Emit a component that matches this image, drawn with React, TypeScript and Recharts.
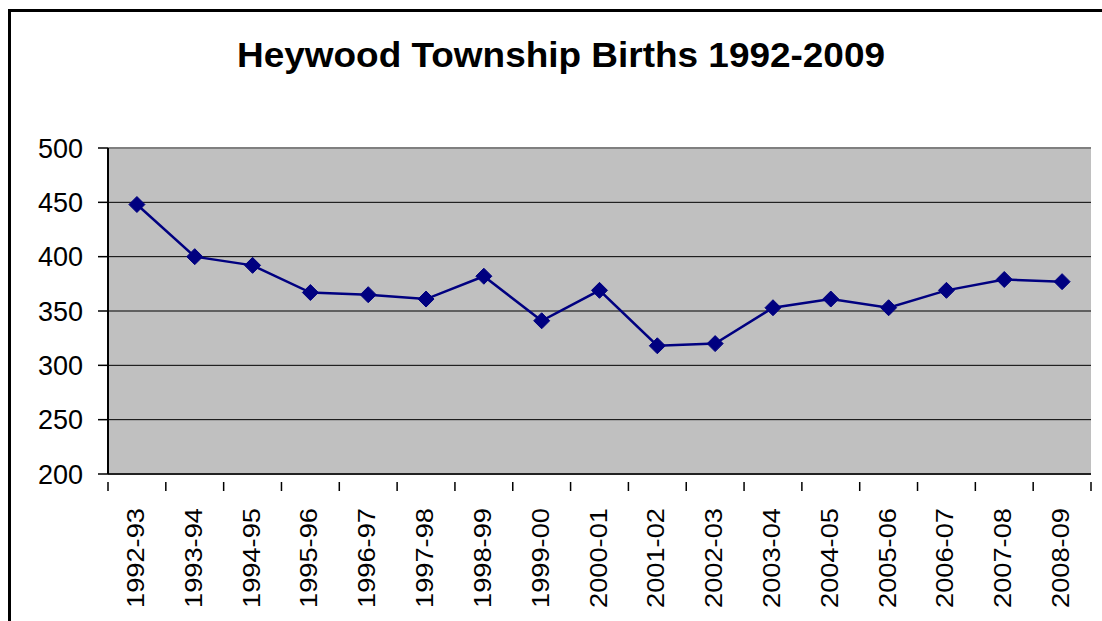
import React from 'react';
import { LineChart, Line, XAxis, YAxis, CartesianGrid, ReferenceLine } from 'recharts';

const seasons = [
  '1992-93', '1993-94', '1994-95', '1995-96', '1996-97', '1997-98', '1998-99', '1999-00', '2000-01',
  '2001-02', '2002-03', '2003-04', '2004-05', '2005-06', '2006-07', '2007-08', '2008-09',
];
const births = [448, 400, 392, 367, 365, 361, 382, 341, 369, 318, 320, 353, 361, 353, 369, 379, 377];
const yTicks = [200, 250, 300, 350, 400, 450, 500];

const data = seasons.map((season, i) => ({ season, births: births[i] }));

const font = '"Liberation Sans", Arial, sans-serif';
const W = 1102;
const H = 621;
const margin = { top: 148, right: 11, bottom: 0, left: 0 };
const yAxisWidth = 108;
const xAxisHeight = 147;
const band = (W - margin.left - margin.right - yAxisWidth) / seasons.length;

const Diamond = (props: any) => {
  const { cx, cy } = props;
  if (cx == null || cy == null) return null;
  const r = 8;
  return (
    <polygon
      points={`${cx},${cy - r} ${cx + r},${cy} ${cx},${cy + r} ${cx - r},${cy}`}
      fill="#000080"
      stroke="#000080"
    />
  );
};

const SeasonTick = (props: any) => {
  const { x, y, payload, index } = props;
  const last = index === seasons.length - 1;
  return (
    <g>
      <line x1={x - band / 2} y1={y} x2={x - band / 2} y2={y + 9} stroke="#000" strokeWidth={1.5} />
      {last && <line x1={x + band / 2} y1={y} x2={x + band / 2} y2={y + 9} stroke="#000" strokeWidth={1.5} />}
      <text
        transform={`translate(${x + 7},${y + 126}) rotate(-90)`}
        fontFamily={font}
        fontSize={24}
        fill="#000"
        textLength={100}
        lengthAdjust="spacingAndGlyphs"
      >
        {payload.value}
      </text>
    </g>
  );
};

const App = () => {
  return (
    <div style={{ position: 'absolute', left: 0, top: 0, width: W, height: H, overflow: 'hidden', background: '#fff' }}>
      <div
        style={{
          position: 'absolute',
          left: 8,
          top: 9,
          width: 1200,
          height: 700,
          borderLeft: '3px solid #000',
          borderTop: '3px solid #000',
        }}
      />
      <svg style={{ position: 'absolute', left: 0, top: 0 }} width={W} height={100}>
        <text
          x={237}
          y={67}
          fontFamily={font}
          fontWeight="bold"
          fontSize={35}
          fill="#000"
          textLength={648}
          lengthAdjust="spacingAndGlyphs"
        >
          Heywood Township Births 1992-2009
        </text>
      </svg>
      <div style={{ position: 'absolute', left: 0, top: 0 }}>
        <LineChart width={W} height={H} data={data} margin={margin}>
          <CartesianGrid vertical={false} stroke="#000" strokeWidth={1} fill="#C0C0C0" fillOpacity={1} />
          <XAxis
            dataKey="season"
            height={xAxisHeight}
            interval={0}
            padding={{ left: band / 2, right: band / 2 }}
            tickLine={false}
            axisLine={{ stroke: '#222', strokeWidth: 2 }}
            tick={<SeasonTick />}
          />
          <YAxis
            domain={[200, 500]}
            ticks={yTicks}
            width={yAxisWidth}
            tickSize={10}
            tickMargin={15}
            axisLine={{ stroke: '#000', strokeWidth: 2 }}
            tickLine={{ stroke: '#000', strokeWidth: 1.5 }}
            tick={{ fontFamily: font, fontSize: 27, fill: '#000' }}
          />
          <YAxis
            yAxisId="frame"
            orientation="right"
            width={0}
            tick={false}
            tickLine={false}
            axisLine={{ stroke: '#808080', strokeWidth: 2 }}
          />
          <ReferenceLine y={500} stroke="#808080" strokeWidth={2} />
          <Line
            type="linear"
            dataKey="births"
            stroke="#000080"
            strokeWidth={2.5}
            dot={<Diamond />}
            activeDot={false}
            isAnimationActive={false}
          />
        </LineChart>
      </div>
    </div>
  );
};

export default App;
